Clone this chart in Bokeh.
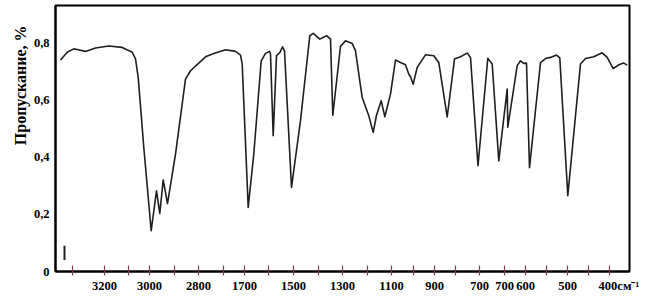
from bokeh.plotting import figure
from bokeh.models import FixedTicker, Range1d, Title
from bokeh.embed import file_html
from bokeh.resources import INLINE

# x: position along the (non-linear) wavenumber axis, in axis units
# y: transmission
spec_x = [5, 11.7, 18.3, 30, 40, 53.3, 66.7, 76.7, 80, 82.7, 88.3, 95.7, 101, 104.3, 107.7, 112, 120, 130, 135,
          150, 158.3, 170, 180, 185, 186.7, 192.7, 198.3, 205.7, 210, 214, 215, 217.7, 221, 224.3, 227, 229, 236,
          245, 254.3, 257.7, 264.3, 271, 275, 277.3, 285, 290, 296.7, 300, 306.7, 313.3, 317.7, 321, 325.7, 329.3,
          335, 340, 345, 350, 353.3, 355, 357.7, 361.7, 370, 378.3, 383.3, 391.7, 399, 405, 411.7, 415, 422.5,
          432.3, 436.7, 443.3, 451.7, 452.3, 461.7, 465, 468.3, 471, 474, 485, 490, 495, 501, 504.3, 512.3, 525,
          530, 538.3, 546.7, 551.7, 557.7, 563.3, 568.3, 571.7]
spec_y = [0.742, 0.769, 0.781, 0.772, 0.784, 0.791, 0.786, 0.769, 0.746, 0.681, 0.435, 0.143, 0.283, 0.204,
          0.321, 0.238, 0.412, 0.675, 0.704, 0.753, 0.765, 0.778, 0.772, 0.759, 0.728, 0.225, 0.412, 0.739,
          0.765, 0.772, 0.763, 0.476, 0.757, 0.768, 0.788, 0.774, 0.295, 0.529, 0.827, 0.835, 0.815, 0.827,
          0.815, 0.548, 0.790, 0.809, 0.800, 0.774, 0.610, 0.546, 0.488, 0.548, 0.599, 0.543, 0.622, 0.742,
          0.733, 0.725, 0.692, 0.683, 0.657, 0.716, 0.760, 0.757, 0.733, 0.542, 0.745, 0.753, 0.766, 0.751,
          0.371, 0.748, 0.728, 0.388, 0.640, 0.506, 0.722, 0.739, 0.730, 0.731, 0.364, 0.733, 0.747, 0.751,
          0.759, 0.749, 0.266, 0.728, 0.747, 0.753, 0.767, 0.751, 0.712, 0.725, 0.731, 0.724]

# x-axis ticks (positions along the axis) and their labels
tick_pos = [17, 49, 73, 94, 119, 143, 168, 189, 213, 238, 263, 287, 312, 336, 358, 379, 400, 424, 449, 470,
            491, 512, 533, 554]
tick_labels = ["", "3200", "", "3000", "", "2800", "", "1700", "", "1500", "", "1300", "", "1100", "", "900",
               "", "700", "700", "600", "", "500", "", "\u2007\u2007\u2007400см\u207b\u00b9"]
y_ticks = [0, 0.2, 0.4, 0.6, 0.8]
y_tick_labels = ["0", "0,2", "0,4", "0,6", "0,8"]

# small vertical marker near the bottom-left corner
mark_x = [9]
mark_y0 = [0.04]
mark_y1 = [0.09]

p = figure(width=646, height=298, output_backend="svg", toolbar_location=None,
           x_range=Range1d(0, 574), y_range=Range1d(0, 0.933),
           min_border_left=55, min_border_right=17, min_border_top=5, min_border_bottom=27)
p.background_fill_color = "white"
p.border_fill_color = "white"
p.outline_line_color = "black"
p.outline_line_width = 2
p.xgrid.visible = False
p.ygrid.visible = False

p.line(spec_x, spec_y, line_color="#1e1e1e", line_width=1.6, line_join="round")
p.segment(x0=mark_x, y0=mark_y0, x1=mark_x, y1=mark_y1, line_color="#1e1e1e", line_width=2)

xa = p.xaxis[0]
xa.ticker = FixedTicker(ticks=tick_pos)
xa.major_label_overrides = {t: l for t, l in zip(tick_pos, tick_labels)}
xa.minor_tick_line_color = None
xa.major_tick_in = 6
xa.major_tick_out = 4
xa.major_tick_line_color = "#7d3c5c"
xa.major_tick_line_width = 1.2
xa.axis_line_color = "black"
xa.axis_line_width = 2
xa.major_label_standoff = 3
xa.major_label_text_font = "Liberation Serif"
xa.major_label_text_font_style = "bold"
xa.major_label_text_font_size = "12.5px"
xa.major_label_text_color = "black"

ya = p.yaxis[0]
ya.ticker = FixedTicker(ticks=y_ticks)
ya.major_label_overrides = {t: l for t, l in zip(y_ticks, y_tick_labels)}
ya.minor_tick_line_color = None
ya.major_tick_line_color = None
ya.major_tick_in = 0
ya.major_tick_out = 0
ya.axis_line_color = "black"
ya.axis_line_width = 2
ya.major_label_standoff = 6
ya.major_label_text_font = "Liberation Serif"
ya.major_label_text_font_style = "bold"
ya.major_label_text_font_size = "12.5px"
ya.major_label_text_color = "black"

ytitle = Title(text="Пропускание, %", align="right", offset=20, standoff=4,
               text_font="Liberation Serif", text_font_style="bold",
               text_font_size="16px", text_color="black")
p.add_layout(ytitle, "left")

open("out.html", "w").write(file_html(p, INLINE))
